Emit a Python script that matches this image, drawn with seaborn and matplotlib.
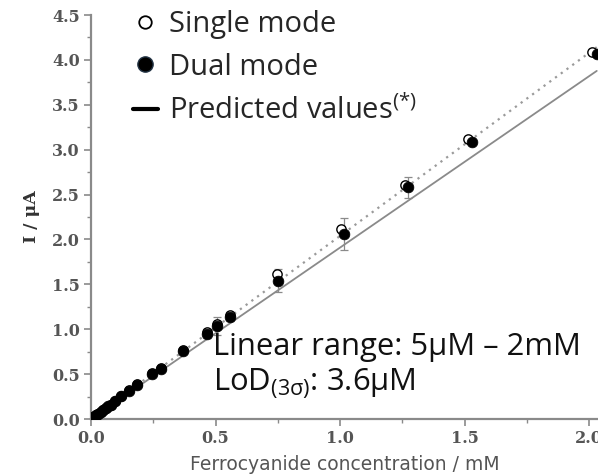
import numpy as np
import pandas as pd
import matplotlib
matplotlib.use("Agg")
import matplotlib.pyplot as plt
from matplotlib.lines import Line2D
from matplotlib.ticker import MultipleLocator
import seaborn as sns

# ---- data ----
conc_dual = [0.005, 0.01, 0.02, 0.03, 0.04, 0.05, 0.06, 0.07, 0.08, 0.095, 0.122,
             0.153, 0.184, 0.246, 0.28, 0.37, 0.465, 0.505, 0.557, 0.752, 1.016,
             1.271, 1.53, 2.03]
I_dual = [0.01, 0.02, 0.04, 0.06, 0.08, 0.10, 0.12, 0.14, 0.16, 0.20, 0.255,
          0.31, 0.38, 0.50, 0.56, 0.76, 0.95, 1.04, 1.14, 1.54, 2.06,
          2.58, 3.08, 4.07]
err_dual = [0, 0, 0, 0, 0, 0, 0, 0, 0, 0, 0,
            0, 0, 0, 0, 0, 0.05, 0.10, 0.05, 0.13, 0.18,
            0.12, 0, 0]

conc_single = [0.005, 0.01, 0.02, 0.03, 0.04, 0.05, 0.06, 0.08, 0.095, 0.122,
               0.153, 0.184, 0.246, 0.28, 0.37, 0.465, 0.505, 0.557, 0.745,
               1.003, 1.26, 1.515, 2.01]
I_single = [0.01, 0.02, 0.04, 0.06, 0.08, 0.10, 0.12, 0.16, 0.20, 0.26,
            0.32, 0.39, 0.51, 0.57, 0.77, 0.97, 1.06, 1.16, 1.62,
            2.12, 2.61, 3.12, 4.09]

fit_x = [0.0, 2.03]
slope_single = 2.04
slope_pred = 1.91

legend_labels = ["Single mode", "Dual mode", "Predicted values$^{(*)}$"]
note_range = "Linear range: 5\u03bcM \u2013 2mM"
note_lod = "LoD$_{(3\\mathrm{\\sigma})}$: 3.6\u03bcM"
xlabel = "Ferrocyanide concentration / mM"
ylabel = "I / \u03bcA"

# ---- styling ----
sns.set_theme(style="ticks")
plt.rcParams["font.family"] = ["DejaVu Sans"]
plt.rcParams["mathtext.fontset"] = "custom"
plt.rcParams["mathtext.rm"] = "Open Sans"
plt.rcParams["mathtext.it"] = "Open Sans:italic"
plt.rcParams["mathtext.sf"] = "Open Sans"

W, H = 598, 476
fig = plt.figure(figsize=(W / 100, H / 100), dpi=100)
left, right, top, bottom = 91, 598, 15, 419
ax = fig.add_axes([left / W, 1 - bottom / H, (right - left) / W, (bottom - top) / H])

grey = "#8a8a8a"

df_fit = pd.DataFrame({"x": fit_x,
                       "single": [slope_single * v for v in fit_x],
                       "pred": [slope_pred * v for v in fit_x]})
sns.lineplot(data=df_fit, x="x", y="pred", ax=ax, color=grey, lw=1.3, zorder=1)
sns.lineplot(data=df_fit, x="x", y="single", ax=ax, color="#9a9a9a", lw=1.6,
             linestyle=(0, (1, 2.2)), zorder=1)

ax.errorbar(conc_dual, I_dual, yerr=err_dual, fmt="none", ecolor="#8a8a8a",
            elinewidth=0.9, capsize=3, capthick=0.9, zorder=2)

df_s = pd.DataFrame({"c": conc_single, "I": I_single})
df_d = pd.DataFrame({"c": conc_dual, "I": I_dual})
sns.scatterplot(data=df_s, x="c", y="I", ax=ax, marker="o", s=45,
                facecolor="white", edgecolor="black", linewidth=1.0, zorder=3)
sns.scatterplot(data=df_d, x="c", y="I", ax=ax, marker="o", s=60,
                color="black", edgecolor="black", linewidth=0.5, zorder=4)

ax.set_xlim(0, 2.035)
ax.set_ylim(0, 4.5)
ax.xaxis.set_major_locator(MultipleLocator(0.5))
ax.xaxis.set_minor_locator(MultipleLocator(0.25))
ax.yaxis.set_major_locator(MultipleLocator(0.5))
ax.yaxis.set_minor_locator(MultipleLocator(0.25))
ax.xaxis.set_major_formatter(plt.FormatStrFormatter("%.1f"))
ax.yaxis.set_major_formatter(plt.FormatStrFormatter("%.1f"))

for s in ["top", "right"]:
    ax.spines[s].set_visible(False)
for s in ["left", "bottom"]:
    ax.spines[s].set_color(grey)
    ax.spines[s].set_linewidth(1.6)
ax.tick_params(which="major", direction="out", length=5, width=1.2, color=grey,
               labelcolor="#555555", pad=3)
ax.tick_params(which="minor", direction="out", length=3, width=1.0, color=grey)
for lab in ax.get_xticklabels() + ax.get_yticklabels():
    lab.set_family("DejaVu Serif")
    lab.set_fontsize(11.5)
    lab.set_fontweight("bold")

ax.set_xlabel(xlabel, fontsize=13.5, color="#555555", family="DejaVu Sans", labelpad=5.5)
ax.set_ylabel(ylabel, fontsize=12.5, color="#333333", family="DejaVu Serif",
              fontweight="bold", labelpad=9)

ax.text(0.49, 0.71, note_range, fontsize=22.3, family="Open Sans", color="#111111",
        va="baseline", ha="left")
ax.text(0.49, 0.32, note_lod, fontsize=22.3, family="Open Sans", color="#111111",
        va="baseline", ha="left")

handles = [
    Line2D([], [], marker="o", linestyle="none", markersize=9, markerfacecolor="white",
           markeredgecolor="black", markeredgewidth=1.3),
    Line2D([], [], marker="o", linestyle="none", markersize=11, markerfacecolor="black",
           markeredgecolor="#223344", markeredgewidth=1.0),
    Line2D([], [], color="black", lw=3),
]
leg = ax.legend(handles, legend_labels, loc="upper left",
                bbox_to_anchor=(133 / W, 1 - 10 / H), bbox_transform=fig.transFigure,
                frameon=False, prop={"family": "Open Sans", "size": 21},
                handlelength=0.85, handletextpad=0.38, labelspacing=0.47,
                borderpad=0, borderaxespad=0)

fig.savefig("out.png", dpi=100)
